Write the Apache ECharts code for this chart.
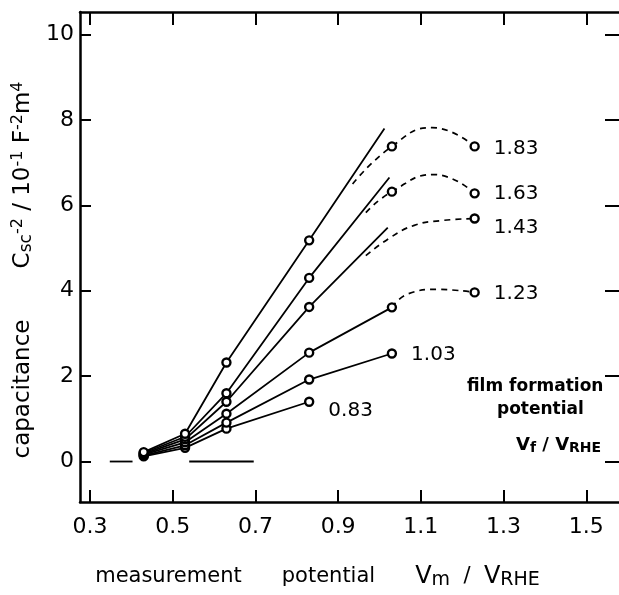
<!DOCTYPE html>
<html>
<head>
<meta charset="utf-8">
<script src="https://cdn.jsdelivr.net/npm/echarts@6/dist/echarts.min.js"></script>
<style>
html,body{margin:0;padding:0;background:#fff;}
#chart{width:619px;height:595px;}
</style>
</head>
<body>
<div id="chart"></div>
<script>
// ---- data ----
const xTicks = [0.3, 0.5, 0.7, 0.9, 1.1, 1.3, 1.5];
const yTicks = [0, 2, 4, 6, 8, 10];
const filmPotentials = ['0.83', '1.03', '1.23', '1.43', '1.63', '1.83'];

// measured points (Vm, C^-2)
const points083 = [[0.43, 0.12], [0.53, 0.32], [0.63, 0.77], [0.83, 1.40]];
const points103 = [[0.43, 0.14], [0.53, 0.38], [0.63, 0.91], [0.83, 1.92], [1.03, 2.53]];
const points123 = [[0.43, 0.16], [0.53, 0.45], [0.63, 1.12], [0.83, 2.55], [1.03, 3.61], [1.23, 3.96]];
const points143 = [[0.43, 0.18], [0.53, 0.52], [0.63, 1.40], [0.83, 3.62], [1.23, 5.69]];
const points163 = [[0.43, 0.20], [0.53, 0.58], [0.63, 1.60], [0.83, 4.30], [1.03, 6.32], [1.23, 6.28]];
const points183 = [[0.43, 0.22], [0.53, 0.65], [0.63, 2.32], [0.83, 5.18], [1.03, 7.38], [1.23, 7.38]];

// solid (linear) lines
const solid083 = [[0.43, 0.12], [0.53, 0.32], [0.63, 0.77], [0.83, 1.40]];
const solid103 = [[0.43, 0.14], [0.53, 0.38], [0.63, 0.91], [0.83, 1.92], [1.03, 2.53]];
const solid123 = [[0.43, 0.16], [0.53, 0.45], [0.63, 1.12], [0.83, 2.55], [1.03, 3.61]];
const solid143 = [[0.43, 0.18], [0.53, 0.52], [0.63, 1.40], [0.83, 3.62], [1.02, 5.48]];
const solid163 = [[0.43, 0.20], [0.53, 0.58], [0.63, 1.60], [0.83, 4.30], [1.024, 6.65]];
const solid183 = [[0.43, 0.22], [0.53, 0.65], [0.63, 2.32], [0.83, 5.18], [1.012, 7.80]];

// dashed (non-linear) curves
const dashed123 = [[1.03, 3.61], [1.07, 3.93], [1.14, 4.03], [1.23, 3.96]];
const dashed143 = [[0.967, 4.82], [1.027, 5.25], [1.084, 5.53], [1.147, 5.64], [1.23, 5.69]];
const dashed163 = [[0.967, 5.83], [1.03, 6.32], [1.132, 6.72], [1.23, 6.28]];
const dashed183 = [[0.935, 6.50], [1.03, 7.38], [1.127, 7.82], [1.23, 7.38]];

// short horizontal segments on the zero line
const zeroSegments = [[[0.348, 0], [0.403, 0]], [[0.54, 0], [0.696, 0]]];

const pointSets = [points083, points103, points123, points143, points163, points183];
const solidSets = [solid083, solid103, solid123, solid143, solid163, solid183];
const dashedSets = [null, null, dashed123, dashed143, dashed163, dashed183];
const labelDy = [9, 1, 1, 9, 0, 2];

const FONT = 'DejaVu Sans';
const BLACK = '#000';

const series = [];
zeroSegments.forEach(seg => {
  series.push({
    type: 'line', data: seg, showSymbol: false, silent: true,
    lineStyle: { color: BLACK, width: 1.8 }
  });
});
solidSets.forEach(s => {
  series.push({
    type: 'line', data: s, showSymbol: false, silent: true,
    lineStyle: { color: BLACK, width: 1.8 }
  });
});
dashedSets.forEach(s => {
  if (!s) return;
  series.push({
    type: 'line', data: s, showSymbol: false, silent: true, smooth: 0.5,
    lineStyle: { color: BLACK, width: 1.7, type: [6, 5] }
  });
});
pointSets.forEach((pts, k) => {
  series.push({
    type: 'scatter',
    name: filmPotentials[k],
    symbol: 'circle', symbolSize: 8,
    itemStyle: { color: '#fff', borderColor: BLACK, borderWidth: 2.4, opacity: 1 },
    z: 5,
    data: pts.map((p, i) => i === pts.length - 1 ? {
      value: p,
      label: {
        show: true, position: 'right', distance: 14, offset: [0, labelDy[k]],
        formatter: filmPotentials[k], color: BLACK, fontFamily: FONT, fontSize: 20
      }
    } : p)
  });
});

const chart = echarts.init(document.getElementById('chart'), null, { renderer: 'canvas' });
chart.setOption({
  animation: false,
  backgroundColor: '#fff',
  grid: { left: 80, top: 12, width: 543, height: 490 },
  xAxis: [{
    type: 'value', position: 'bottom', min: 0.276, max: 1.579,
    axisLine: { onZero: false, lineStyle: { color: BLACK, width: 2.5 } },
    axisTick: { inside: true, length: 12, customValues: xTicks, lineStyle: { color: BLACK, width: 2 } },
    axisLabel: { customValues: xTicks, formatter: v => v.toFixed(1), color: BLACK, fontFamily: FONT, fontSize: 22, margin: 14 },
    splitLine: { show: false },
    name: '{t|measurement}{t|      potential}{t|      }{v|V}{sub|m}{t|  /  }{v|V}{sub|RHE}',
    nameLocation: 'middle', nameGap: 62,
    nameTextStyle: {
      color: BLACK, fontFamily: FONT, padding: [0, 64, 0, 0],
      rich: {
        t: { fontFamily: FONT, fontSize: 21, color: BLACK, lineHeight: 24, verticalAlign: 'middle' },
        v: { fontFamily: FONT, fontSize: 24, color: BLACK, lineHeight: 26, verticalAlign: 'middle' },
        sub: { fontFamily: FONT, fontSize: 19, color: BLACK, lineHeight: 16, verticalAlign: 'bottom' }
      }
    }
  }, {
    type: 'value', position: 'top', min: 0.276, max: 1.579,
    axisLine: { onZero: false, lineStyle: { color: BLACK, width: 2.5 } },
    axisTick: { inside: true, length: 13, customValues: xTicks, lineStyle: { color: BLACK, width: 2 } },
    axisLabel: { show: false },
    splitLine: { show: false }
  }],
  yAxis: [{
    type: 'value', position: 'left', min: -0.948, max: 10.527,
    axisLine: { onZero: false, lineStyle: { color: BLACK, width: 2.5 } },
    axisTick: { inside: true, length: 11, customValues: yTicks, lineStyle: { color: BLACK, width: 2 } },
    axisLabel: { customValues: yTicks, color: BLACK, fontFamily: FONT, fontSize: 22, margin: 6 },
    splitLine: { show: false },
    name: '{t|capacitance}{t|       C}{sub|sc}{sup|-2}{t| / 10}{sup|-1}{t| F}{sup|-2}{t|m}{sup|4}',
    nameLocation: 'middle', nameGap: 36, nameRotate: 90,
    nameTextStyle: {
      color: BLACK, fontFamily: FONT, padding: [0, 26, 0, 0],
      rich: {
        t: { fontFamily: FONT, fontSize: 23, color: BLACK, lineHeight: 25, verticalAlign: 'middle' },
        sub: { fontFamily: FONT, fontSize: 17, color: BLACK, lineHeight: 15, verticalAlign: 'bottom' },
        sup: { fontFamily: FONT, fontSize: 16, color: BLACK, lineHeight: 15, verticalAlign: 'top' }
      }
    }
  }, {
    type: 'value', position: 'right', min: -0.948, max: 10.527,
    axisLine: { show: false, onZero: false },
    axisTick: { inside: true, length: 14, customValues: yTicks, lineStyle: { color: BLACK, width: 2 } },
    axisLabel: { show: false },
    splitLine: { show: false }
  }],
  graphic: [{
    type: 'text', left: 467, top: 378,
    style: { text: 'film formation', fill: BLACK, font: 'bold 17px "DejaVu Sans"' }
  }, {
    type: 'text', left: 497, top: 401,
    style: { text: 'potential', fill: BLACK, font: 'bold 17px "DejaVu Sans"' }
  }, {
    type: 'text', left: 516, top: 436,
    style: {
      text: '{v|V}{s|f}{v| / V}{s|RHE}',
      rich: {
        v: { fontFamily: FONT, fontSize: 18, fontWeight: 'bold', fill: BLACK, lineHeight: 20, verticalAlign: 'middle' },
        s: { fontFamily: FONT, fontSize: 14, fontWeight: 'bold', fill: BLACK, lineHeight: 13, verticalAlign: 'bottom' }
      }
    }
  }],
  series: series
});
</script>
</body>
</html>
